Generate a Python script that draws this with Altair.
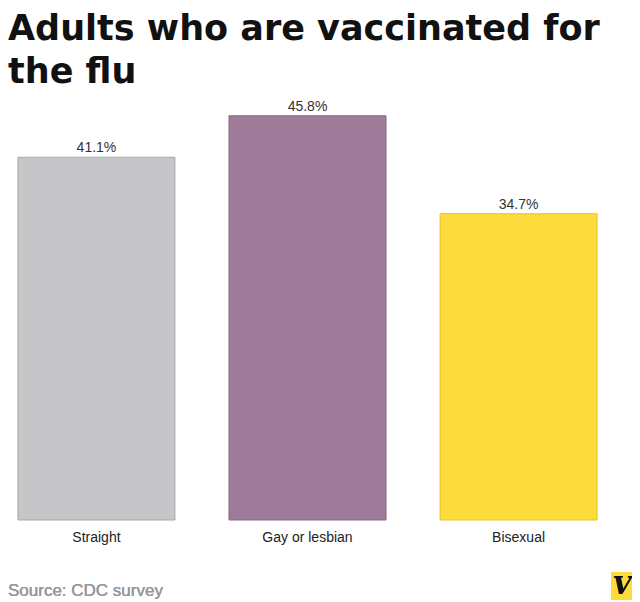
import altair as alt
import pandas as pd

groups = ["Straight", "Gay or lesbian", "Bisexual"]
rates = [41.1, 45.8, 34.7]
bar_colors = ["#c6c6c8", "#9e7b98", "#fddb3a"]
border_colors = ["#a9a9ab", "#8a6884", "#e6c425"]

df = pd.DataFrame({"group": groups, "rate": rates, "label": [f"{r}%" for r in rates]})

x = alt.X("group:N", sort=groups, title=None,
          scale=alt.Scale(paddingInner=0.256, paddingOuter=0.047),
          axis=alt.Axis(labelAngle=0, ticks=False, domain=False, labelFontSize=14,
                        labelColor="#222", labelFont="Liberation Sans", labelPadding=10))
y = alt.Y("rate:Q", scale=alt.Scale(domain=[0, 46], nice=False), axis=None)

base = alt.Chart(df).encode(x=x, y=y)

bars = base.mark_bar(strokeWidth=1).encode(
    color=alt.Color("group:N", scale=alt.Scale(domain=groups, range=bar_colors), legend=None),
    stroke=alt.Stroke("group:N", scale=alt.Scale(domain=groups, range=border_colors), legend=None),
)
labels = base.mark_text(dy=-9, fontSize=14, color="#333", font="Liberation Sans").encode(text="label:N")

source = alt.Chart(df).mark_text(align="left", fontSize=17, color="#999", font="Liberation Sans",
                                 baseline="alphabetic").encode(
    x=alt.value(0), y=alt.value(482), text=alt.datum("Source: CDC survey"))
logo_bg = alt.Chart(df).mark_rect(color="#fddb3a").encode(
    x=alt.value(603), x2=alt.value(625), y=alt.value(458), y2=alt.value(486))
logo = alt.Chart(df).mark_text(fontSize=24, fontWeight="bold", fontStyle="italic", color="#111",
                               font="DejaVu Serif").encode(
    x=alt.value(614), y=alt.value(473), text=alt.datum("V"))

chart = alt.layer(bars, labels, source, logo_bg, logo).properties(
    width=599, height=406,
    autosize=alt.AutoSizeParams(type="none"),
    padding={"left": 0, "top": 106, "right": 25, "bottom": 80},
    title=alt.TitleParams(["Adults who are vaccinated for", "the flu"], anchor="start",
                          fontSize=35, fontWeight="bold", font="DejaVu Sans", color="#111",
                          lineHeight=43, offset=10, frame="group"),
).configure_view(stroke=None)

chart.save("out.html", embed_options={"renderer": "svg", "actions": False})
